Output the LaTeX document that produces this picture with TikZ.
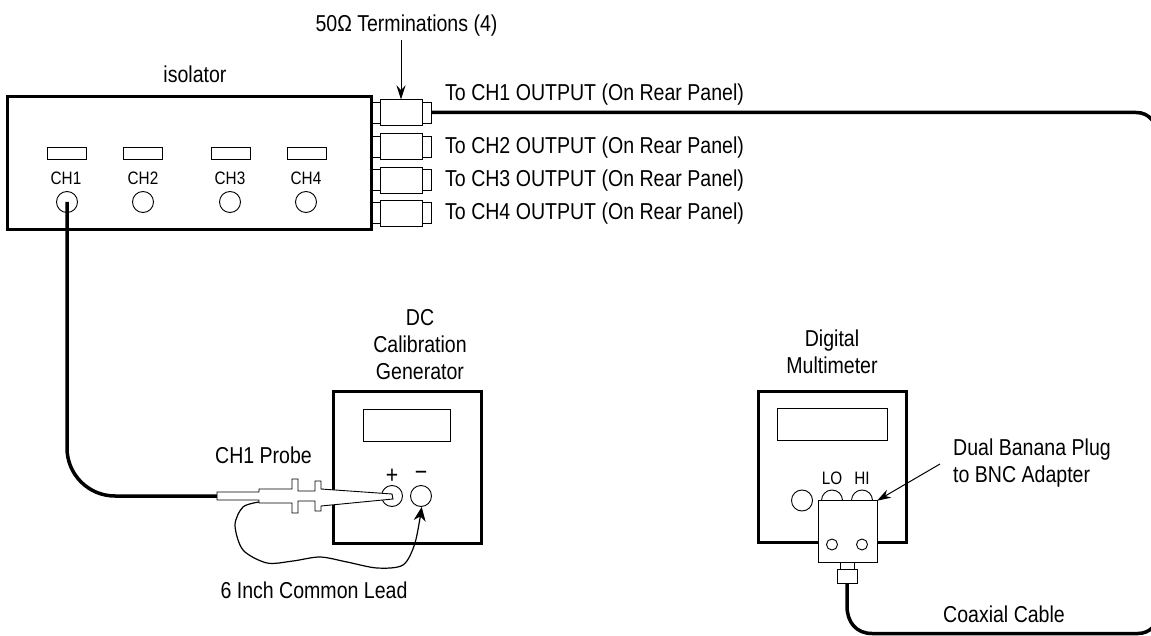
\documentclass[tikz,border=0pt]{standalone}
\usepackage{fontspec}
\setmainfont[FakeStretch=0.85]{Liberation Sans}
\usetikzlibrary{arrows.meta}
\tikzset{
	lbl/.style={inner sep=0pt,font=\fontsize{23}{27}\selectfont,align=center},
	smalllbl/.style={inner sep=0pt,font=\fontsize{18}{20}\selectfont},
	thin box/.style={draw,line width=0.9pt,fill=white,inner sep=0pt,outer sep=0pt,minimum width=#1},
	panel/.style={draw,line width=3pt,inner sep=0pt,outer sep=0pt},
	jack/.style={draw,circle,line width=0.9pt,inner sep=0pt,outer sep=0pt,minimum size=21pt},
	port/.style={draw,circle,line width=0.9pt,inner sep=0pt,outer sep=0pt,minimum size=11pt},
	cable/.style={line width=3.5pt},
	pointer/.style={line width=1pt,-{Stealth[length=14pt,width=9pt]}}
}
\begin{document}
\begin{tikzpicture}[x=1pt,y=-1pt]
	\useasboundingbox (0,0) rectangle (1151,636);

	% isolator
	\node[panel,minimum width=364pt,minimum height=133pt] (isolator) at (189,163.5) {};
	\node[lbl] (isolatorlbl) at (195,74) {isolator};
	\node[thin box=39pt,minimum height=12pt] (dispA) at (66.5,153) {}; \node[smalllbl] (chlblA) at (66,178) {CH1}; \node[jack] (inA) at (67,202) {};
	\node[thin box=39pt,minimum height=12pt] (dispB) at (142.5,153) {}; \node[smalllbl] (chlblB) at (143,178) {CH2}; \node[jack] (inB) at (143,202) {};
	\node[thin box=39pt,minimum height=12pt] (dispC) at (230.5,153) {}; \node[smalllbl] (chlblC) at (230,178) {CH3}; \node[jack] (inC) at (230,202) {};
	\node[thin box=39pt,minimum height=12pt] (dispD) at (306.5,153) {}; \node[smalllbl] (chlblD) at (306,178) {CH4}; \node[jack] (inD) at (306,202) {};

	% terminations
	\node[thin box=10pt,minimum height=21pt] (stubA) at (375.5,112.5) {}; \node[thin box=42pt,minimum height=26pt] (termA) at (401,112.5) {}; \node[thin box=9.5pt,minimum height=21pt] (capA) at (426.8,112.5) {};
	\node[thin box=10pt,minimum height=21pt] (stubB) at (375.5,146.5) {}; \node[thin box=42pt,minimum height=26pt] (termB) at (401,146.5) {}; \node[thin box=9.5pt,minimum height=21pt] (capB) at (426.8,146.5) {};
	\node[thin box=10pt,minimum height=21pt] (stubC) at (375.5,180) {}; \node[thin box=42pt,minimum height=26pt] (termC) at (401,180) {}; \node[thin box=9.5pt,minimum height=21pt] (capC) at (426.8,180) {};
	\node[thin box=10pt,minimum height=21pt] (stubD) at (375.5,213) {}; \node[thin box=42pt,minimum height=26pt] (termD) at (401,213) {}; \node[thin box=9.5pt,minimum height=21pt] (capD) at (426.8,213) {};
	\draw[panel] (371,97) -- (371,230);
	\node[lbl,anchor=west] (toA) at (445,94.5) {To CH1 OUTPUT (On Rear Panel)};
	\node[lbl,anchor=west] (toB) at (445,147.5) {To CH2 OUTPUT (On Rear Panel)};
	\node[lbl,anchor=west] (toC) at (445,181) {To CH3 OUTPUT (On Rear Panel)};
	\node[lbl,anchor=west] (toD) at (445,214) {To CH4 OUTPUT (On Rear Panel)};
	\node[lbl] (termlbl) at (406.5,26) {50Ω Terminations (4)};
	\coordinate (termFrom) at (401,40);
	\draw[pointer] (termFrom) -- (termA.north);

	% calibration generator
	\node[panel,minimum width=148pt,minimum height=152pt] (generator) at (407,467) {};
	\node[lbl] (generatorlbl) at (420,344.5) {DC\\Calibration\\Generator};
	\node[thin box=87pt,minimum height=32pt] (genDisp) at (406.5,425) {};
	\node[jack] (plus) at (392,496) {}; \node[jack] (minus) at (421,496) {};
	\node[lbl,font=\fontsize{25}{27}\selectfont] (pluslbl) at (392,476) {+}; \node[lbl,font=\fontsize{25}{27}\selectfont] (minuslbl) at (421,476) {−};

	% probe
	\coordinate (probeEnd) at (217,496);
	\coordinate (leadStart) at (259,502);
	\draw[line width=0.9pt,fill=white] (217,492) -- (259,492) -- (259,489) -- (292,489) -- (292,479) -- (298,479) -- (298,491) -- (315,491) -- (315,481) -- (321,481) -- (321,489) -- (392,494) -- (393,499) -- (321,506) -- (321,511) -- (315,511) -- (315,501) -- (298,501) -- (298,513) -- (292,513) -- (292,503) -- (259,503) -- (259,500) -- (217,500) -- cycle;
	\node[lbl] (probelbl) at (263.5,455) {CH1 Probe};
	\draw[cable,rounded corners=48pt] (inA.center) -- (67,496) -- (probeEnd);
	\draw[line width=1.2pt,-{Stealth[length=14pt,width=12pt]}] plot[smooth] coordinates {(leadStart) (243,507) (235,525) (243,550) (267,563) (293,561) (320,557) (347,562) (377,568) (403,565) (415,543) (421.7,507)};
	\node[lbl] (leadlbl) at (314,590) {6 Inch Common Lead};

	% multimeter
	\node[panel,minimum width=148pt,minimum height=151pt] (meter) at (832,466.5) {};
	\node[lbl] (meterlbl) at (832,352) {Digital\\Multimeter};
	\node[thin box=110pt,minimum height=32pt] (meterDisp) at (832,424) {};
	\node[jack] (aux) at (802,500.5) {}; \node[jack] (lo) at (832,500.5) {}; \node[jack] (hi) at (862,500.5) {};
	\node[smalllbl] (lolbl) at (832,478) {LO}; \node[smalllbl] (hilbl) at (862,478) {HI};
	\node[thin box=59pt,minimum height=61.5pt] (adapter) at (847.5,531.5) {};
	\node[port] (portA) at (832,544.5) {}; \node[port] (portB) at (862,544.5) {};
	\node[thin box=14pt,minimum height=7pt] (neck) at (847,565.5) {};
	\node[thin box=20pt,minimum height=14pt] (nut) at (847,576) {};
	\node[lbl,anchor=west] (bananalbl) at (953,450) {Dual Banana Plug};
	\node[lbl,anchor=west] (bnclbl) at (953,477) {to BNC Adapter};
	\coordinate (bananaFrom) at (940,464);
	\draw[pointer] (bananaFrom) -- (adapter.north east);

	% coaxial cable
	\node[lbl] (coaxlbl) at (1004,614) {Coaxial Cable};
	\coordinate (edgeTop) at (1152,120);
	\coordinate (edgeBot) at (1152,628);
	\draw[cable] (capA.east) -- (1136,112.5) .. controls (1143,112.5) and (1148,115) .. (edgeTop);
	\draw[cable] (nut.south) -- (847,606) .. controls (847,622) and (856,633.5) .. (872,633.5) -- (1138,633.5) .. controls (1144,633.5) and (1149,631) .. (edgeBot);
\end{tikzpicture}
\end{document}
